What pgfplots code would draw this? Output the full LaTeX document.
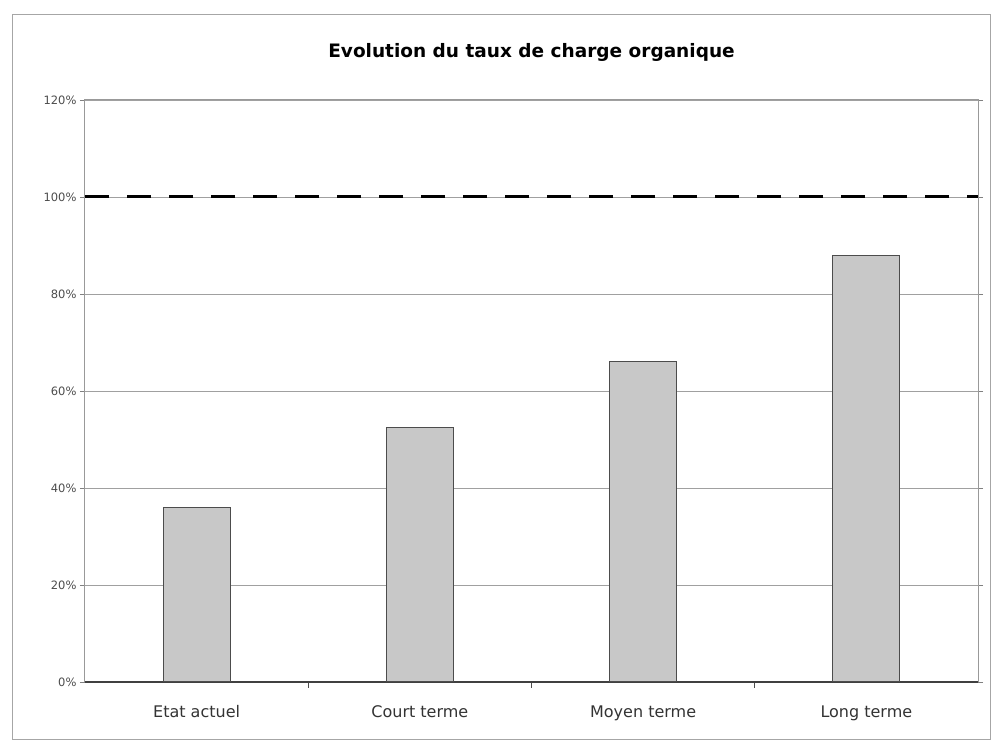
\documentclass[border=0pt]{standalone}
\usepackage{pgfplots}
\pgfplotsset{compat=1.18}
\usepackage{fontspec}
\setmainfont{DejaVu Sans}
\definecolor{barfill}{HTML}{C8C8C8}
\definecolor{gridc}{HTML}{A0A0A0}
\begin{document}
\begin{tikzpicture}
\useasboundingbox (-85pt,-64pt) rectangle (910pt,682pt);
\draw[gray!70, line width=1pt] (-72pt,-58pt) rectangle (905pt,667pt);
\begin{axis}[
  scale only axis,
  width=893pt, height=582pt,
  xmin=-0.5, xmax=3.5,
  ymin=0, ymax=120,
  xtick={0,1,2,3},
  xticklabels={Etat actuel, Court terme, Moyen terme, Long terme},
  minor xtick={0.5,1.5,2.5},
  ytick={0,20,40,60,80,100,120},
  yticklabel={\pgfmathprintnumber{\tick}\%},
  /pgf/number format/assume math mode=true,
  tick align=outside,
  major tick length=5pt,
  minor tick length=6pt,
  xtick style={draw=none},
  minor x tick style={draw=black!70, line width=0.8pt},
  ytick style={draw=gray, line width=0.6pt},
  ymajorgrids,
  grid style={gridc, line width=0.9pt},
  axis line style={draw=gray!80, line width=1pt},
  axis x line*=bottom,
  x axis line style={draw=black!75, line width=1.2pt},
  xticklabel style={font=\fontsize{16}{18}\selectfont, text=black!80, anchor=base, yshift=-31pt, text height=12pt, text depth=3pt},
  yticklabel style={font=\fontsize{11.5}{13}\selectfont, text=black!70},
  title={\bfseries Evolution du taux de charge organique},
  title style={font=\fontsize{18.5}{21}\selectfont, yshift=29pt},
  clip=false,
]
\addplot[ybar, bar width=0.3, fill=barfill, draw=black!70, line width=1pt] coordinates {(0,36) (1,52.5) (2,66) (3,88)};
\addplot[black, line width=3pt, dash pattern=on 24pt off 18pt] coordinates {(-0.5,100) (3.5,100)};
\draw[gray!80, line width=1pt] (rel axis cs:0,0) -- (rel axis cs:0,1) -- (rel axis cs:1,1) -- (rel axis cs:1,0);
\end{axis}
\end{tikzpicture}
\end{document}
